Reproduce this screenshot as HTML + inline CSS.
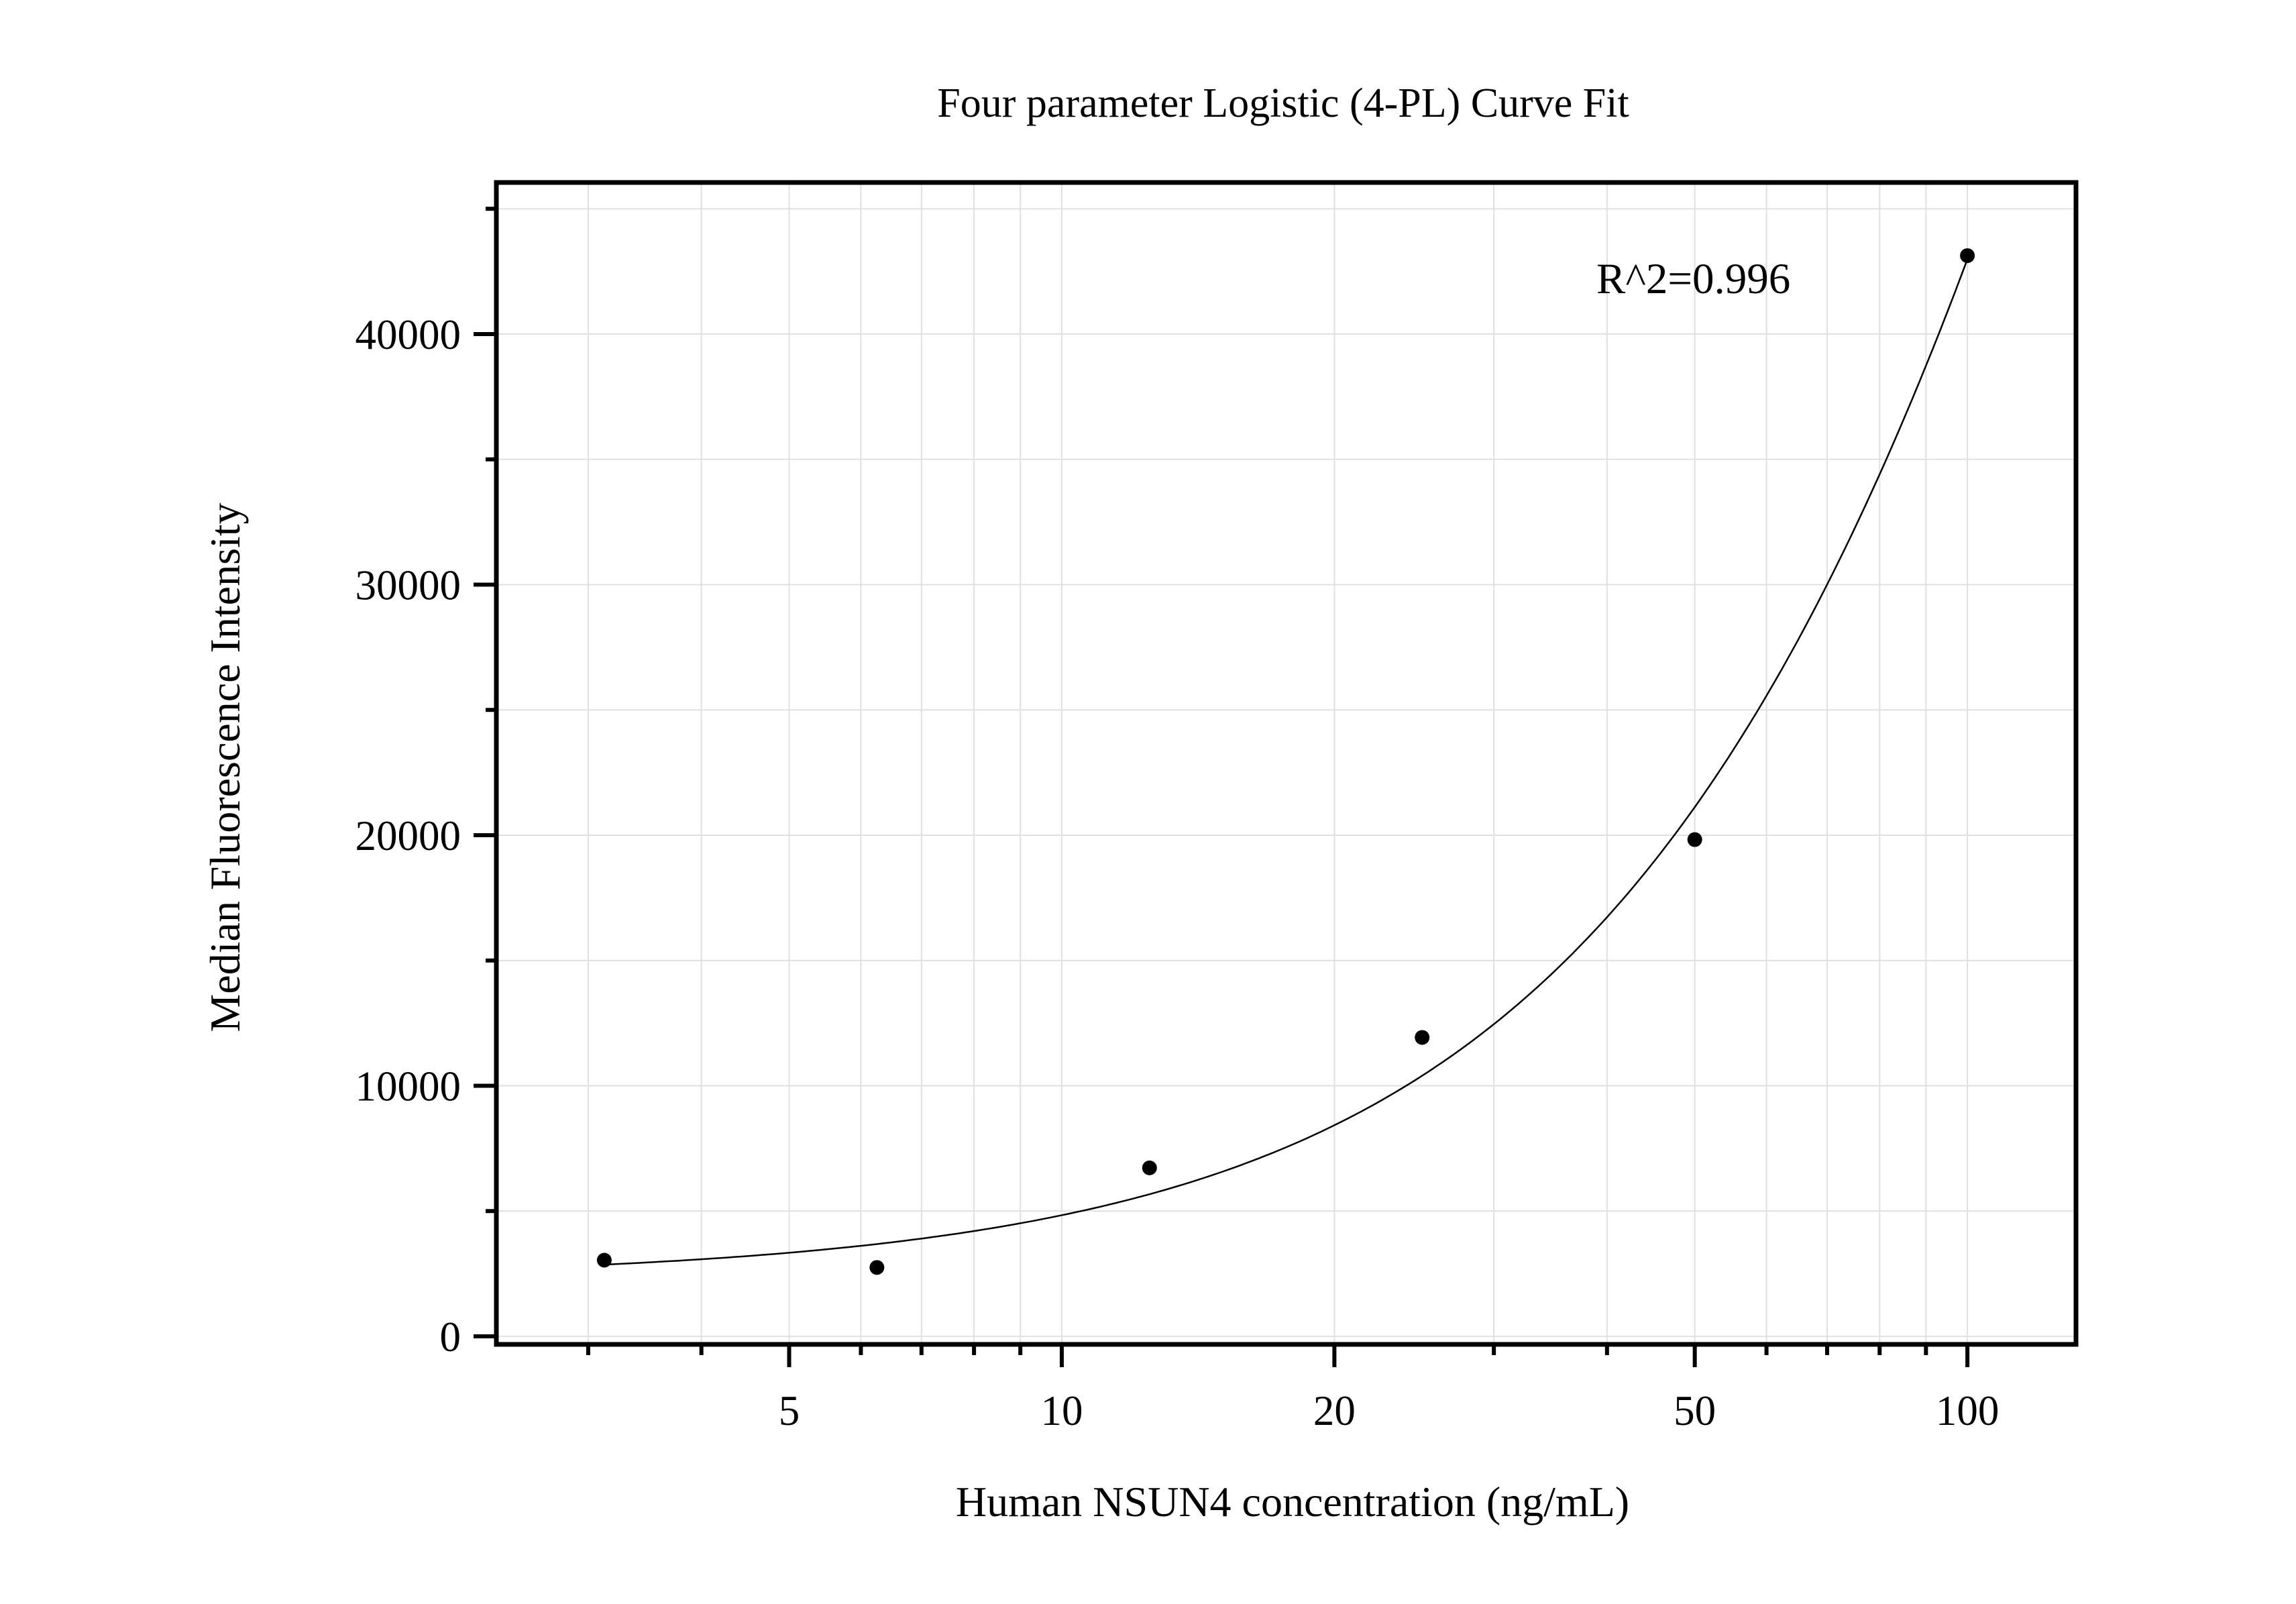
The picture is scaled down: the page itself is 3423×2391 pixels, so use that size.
<!DOCTYPE html>
<html><head><meta charset="utf-8"><style>
html,body{margin:0;padding:0;background:#fff}
svg{display:block;font-family:"Liberation Serif","Times New Roman",serif}
</style></head><body>
<svg id="chart" width="3423" height="2391" viewBox="0 0 3423 2391" xmlns="http://www.w3.org/2000/svg">
<rect width="3423" height="2391" fill="#fff"/>
<g id="grid"></g>
<g id="curve"></g>
<g id="points"></g>
<rect x="740" y="272" width="2355" height="1732" fill="none" stroke="#000" stroke-width="7"/>
<g id="axes"></g>
<text x="1913" y="174" text-anchor="middle" font-size="62">Four parameter Logistic (4-PL) Curve Fit</text>
<text x="2380" y="437" font-size="65">R^2=0.996</text>
<text x="1927" y="2260" text-anchor="middle" font-size="64">Human NSUN4 concentration (ng/mL)</text>
<text transform="translate(357,1144) rotate(-90)" text-anchor="middle" font-size="64">Median Fluorescence Intensity</text>
</svg>
<script>
const xValues = [3.125, 6.25, 12.5, 25, 50, 100];
const yValues = [3040, 2750, 6725, 11930, 19825, 43130];
const xTickLabels = ["5", "10", "20", "50", "100"];
const xTickValues = [5, 10, 20, 50, 100];
const xMinorTicks = [3,4,5,6,7,8,9,10,20,30,40,50,60,70,80,90,100];
const yTickValues = [0, 10000, 20000, 30000, 40000];
const yTickLabels = ["0", "10000", "20000", "30000", "40000"];
const yMinorTicks = [5000, 15000, 25000, 35000, 45000];
const fitParams = [2300, 1.3, 282.6, 200000]; // a, b, c, d

const NS = "http://www.w3.org/2000/svg";
const L = 740, R = 3095, T = 272, B = 2004;
const xMinLog = Math.log10(2.375), xMaxLog = Math.log10(131.8);
const yMin = -320, yMax = 46050;
function sx(v){ return L + (Math.log10(v) - xMinLog) / (xMaxLog - xMinLog) * (R - L); }
function sy(v){ return B - (v - yMin) / (yMax - yMin) * (B - T); }
function mk(tag, attrs, parent){ const e = document.createElementNS(NS, tag); for (const k in attrs) e.setAttribute(k, attrs[k]); parent.appendChild(e); return e; }

const grid = document.getElementById('grid');
const axes = document.getElementById('axes');
xMinorTicks.forEach(v => {
  const x = sx(v);
  const g = mk('line', {x1:x, x2:x, y1:T, y2:B, stroke:'#e0e0e0', 'stroke-width':2}, grid);
  
  
  const major = xTickValues.includes(v);
  const t = mk('line', {x1:x, x2:x, y1:B, y2:B + (major ? 34 : 16), stroke:'#000', 'stroke-width':6}, axes);
  
  
});
yTickValues.concat(yMinorTicks).forEach(v => {
  const y = sy(v);
  const g = mk('line', {x1:L, x2:R, y1:y, y2:y, stroke:'#e0e0e0', 'stroke-width':2}, grid);
  
  
  const major = yTickValues.includes(v);
  const t = mk('line', {x1:L - (major ? 34 : 16), x2:L, y1:y, y2:y, stroke:'#000', 'stroke-width':6}, axes);
  
  
});
xTickValues.forEach((v, i) => {
  const t = mk('text', {x:sx(v), y:2124, 'text-anchor':'middle', 'font-size':63}, axes);
  t.textContent = xTickLabels[i];
  
  
});
yTickValues.forEach((v, i) => {
  const t = mk('text', {x:687, y:sy(v) + 22, 'text-anchor':'end', 'font-size':63}, axes);
  t.textContent = yTickLabels[i];
  
  
});

function fit(x){ const [a,b,c,d] = fitParams; return d + (a - d) / (1 + Math.pow(x / c, b)); }
let dstr = "";
const lo = Math.log10(xValues[0]), hi = Math.log10(xValues[xValues.length - 1]);
for (let i = 0; i <= 200; i++) {
  const xv = Math.pow(10, lo + (hi - lo) * i / 200);
  dstr += (i ? "L" : "M") + sx(xv).toFixed(1) + "," + sy(fit(xv)).toFixed(1);
}
const path = mk('path', {d:dstr, fill:'none', stroke:'#000', 'stroke-width':2.5}, document.getElementById('curve'));



const pts = document.getElementById('points');
xValues.forEach((xv, i) => {
  const c = mk('circle', {cx:sx(xv), cy:sy(yValues[i]), r:11, fill:'#000'}, pts);
  
  
});
</script>
</body></html>
